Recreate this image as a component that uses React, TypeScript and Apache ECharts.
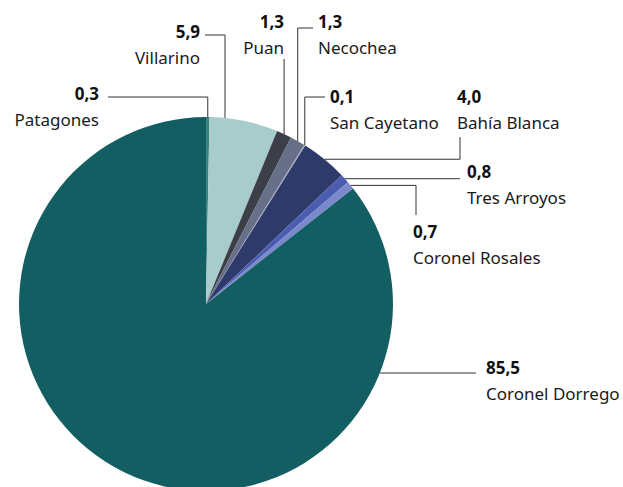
import React, { useEffect, useRef } from "react";
import * as echarts from "echarts";

const names = [
  "Patagones",
  "Villarino",
  "Puan",
  "Necochea",
  "San Cayetano",
  "Bahía Blanca",
  "Tres Arroyos",
  "Coronel Rosales",
  "Coronel Dorrego",
];
const values = [0.3, 5.9, 1.3, 1.3, 0.1, 4.0, 0.8, 0.7, 85.5];
const colors = [
  "#3a8383",
  "#a8cbcb",
  "#3c3f48",
  "#686f88",
  "#a3abc3",
  "#2e3a6a",
  "#4b5db0",
  "#7b89cc",
  "#135e62",
];

const CX = 206;
const CY = 304;
const R = 187;
const FONT = "'Noto Sans', sans-serif";

type Pt = [number, number];

// label layout: text anchor and leader line path builder (layout only)
const labelPos: {
  x: number;
  y: number;
  align: "left" | "right";
  line: (a: Pt) => Pt[];
}[] = [
  { x: 99, y: 80, align: "right", line: (a) => [a, [a[0], 97], [108, 97]] },
  {
    x: 200,
    y: 18,
    align: "right",
    line: () => {
      const x = 225;
      const y = CY - Math.sqrt(R * R - (x - CX) * (x - CX));
      return [[x, y], [x, 35], [205, 35]];
    },
  },
  { x: 284, y: 8, align: "right", line: (a) => [a, [a[0], 59]] },
  { x: 318, y: 8, align: "left", line: (a) => [a, [a[0], 28], [313, 28]] },
  { x: 330, y: 83, align: "left", line: (a) => [a, [a[0], 97], [325, 97]] },
  { x: 457, y: 83, align: "left", line: (a) => [a, [460, a[1]], [460, 137]] },
  { x: 467, y: 158, align: "left", line: (a) => [a, [460, a[1]]] },
  { x: 413, y: 218, align: "left", line: (a) => [a, [416, a[1]], [416, 215]] },
  {
    x: 486,
    y: 354,
    align: "left",
    line: () => {
      const y = 373;
      const x = CX + Math.sqrt(R * R - (y - CY) * (y - CY));
      return [[x, y], [476, y]];
    },
  },
];

function anchors(): Pt[] {
  const total = values.reduce((s, v) => s + v, 0);
  let cum = 0;
  return values.map((v) => {
    const mid = (cum + v / 2) / total;
    cum += v;
    const ang = mid * Math.PI * 2;
    return [CX + R * Math.sin(ang), CY - R * Math.cos(ang)] as Pt;
  });
}

export default function App() {
  const ref = useRef<HTMLDivElement>(null);
  useEffect(() => {
    if (!ref.current) return;
    const chart = echarts.init(ref.current, null, { renderer: "svg" });
    const anc = anchors();
    chart.setOption({
      animation: false,
      backgroundColor: "#ffffff",
      series: [
        {
          type: "pie",
          center: [CX, CY],
          radius: [0, R],
          startAngle: 90,
          clockwise: true,
          avoidLabelOverlap: false,
          data: names.map((n, i) => ({
            name: n,
            value: values[i],
            itemStyle: { color: colors[i] },
          })),
          itemStyle: { borderWidth: 0 },
          emphasis: { disabled: true },
          label: {
            show: true,
            position: "outside",
            formatter: (p: any) =>
              `{v|${Number(p.value).toFixed(1).replace(".", ",")}}\n{n|${p.name}}`,
            rich: {
              v: {
                fontFamily: FONT,
                fontSize: 17,
                fontWeight: "bold",
                color: "#111",
                lineHeight: 26,
              },
              n: {
                fontFamily: FONT,
                fontSize: 17,
                color: "#1a1a1a",
                lineHeight: 26,
              },
            },
          },
          labelLine: {
            show: true,
            lineStyle: { color: "#333", width: 1 },
          },
          labelLayout: (params: any) => {
            const i = params.dataIndex;
            const cfg = labelPos[i];
            return {
              x: cfg.x,
              y: cfg.y,
              align: cfg.align,
              verticalAlign: "top",
              labelLinePoints: cfg.line(anc[i]),
            };
          },
        },
      ],
    });
    return () => chart.dispose();
  }, []);
  return (
    <div
      ref={ref}
      style={{ position: "fixed", left: 0, top: 0, width: 623, height: 487 }}
    />
  );
}
